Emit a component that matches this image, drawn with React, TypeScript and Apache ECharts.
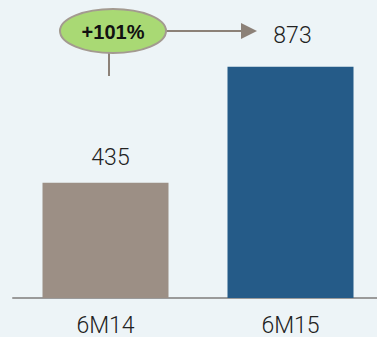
import React, { useEffect, useRef } from "react";
import * as echarts from "echarts";

const categories = ["6M14", "6M15"];
const values = [435, 873];
const barColors = ["#9C8F85", "#255B88"];
const growthLabel = "+101%";

export default function App() {
  const ref = useRef<HTMLDivElement>(null);
  useEffect(() => {
    if (!ref.current) return;
    const chart = echarts.init(ref.current, null, { renderer: "svg" });
    const font = "Roboto, 'Liberation Sans', Arial, sans-serif";
    const boldFont = "'Liberation Sans', Arial, sans-serif";
    chart.setOption({
      animation: false,
      backgroundColor: "#EDF4F7",
      grid: {
        left: 13,
        width: 370,
        top: 33,
        bottom: 39,
        outerBoundsMode: "none",
        containLabel: false,
      },
      xAxis: {
        type: "category",
        data: categories,
        axisLine: { show: true, lineStyle: { color: "#9A9A9A", width: 2 } },
        axisTick: { show: false },
        axisLabel: {
          color: "#222",
          fontSize: 23,
          lineHeight: 22,
          fontFamily: font,
          fontWeight: 300,
          margin: 16,
        },
      },
      yAxis: {
        type: "value",
        min: 0,
        max: 1000,
        show: false,
        splitLine: { show: false },
      },
      series: [
        {
          type: "bar",
          barWidth: 126,
          data: values.map((v, i) => ({
            value: v,
            itemStyle: { color: barColors[i] },
            label:
              i === 0
                ? { distance: 14, offset: [5, 0] }
                : { distance: 20, offset: [2, 0] },
          })),
          label: {
            show: true,
            position: "top",
            color: "#222",
            fontSize: 23,
            fontWeight: 300,
            fontFamily: font,
          },
        },
      ],
      graphic: [
        {
          type: "line",
          shape: { x1: 109, y1: 52, x2: 109, y2: 76 },
          style: { stroke: "#8C8178", lineWidth: 2 },
        },
        {
          type: "line",
          shape: { x1: 166, y1: 31, x2: 242, y2: 31 },
          style: { stroke: "#8C8178", lineWidth: 2 },
        },
        {
          type: "polygon",
          shape: { points: [[241, 23], [257, 31], [241, 39]] },
          style: { fill: "#8C8178" },
        },
        {
          type: "ellipse",
          shape: { cx: 113, cy: 31, rx: 53, ry: 22 },
          style: { fill: "#A9D974", stroke: "#A39A90", lineWidth: 2 },
        },
        {
          type: "text",
          x: 113,
          y: 32,
          style: {
            text: growthLabel,
            fill: "#111",
            font: `bold 20px ${boldFont}`,
            align: "center",
            verticalAlign: "middle",
          },
        },
      ],
    });
    return () => chart.dispose();
  }, []);
  return (
    <div
      ref={ref}
      style={{ position: "fixed", left: 0, top: 0, width: 377, height: 337 }}
    />
  );
}
